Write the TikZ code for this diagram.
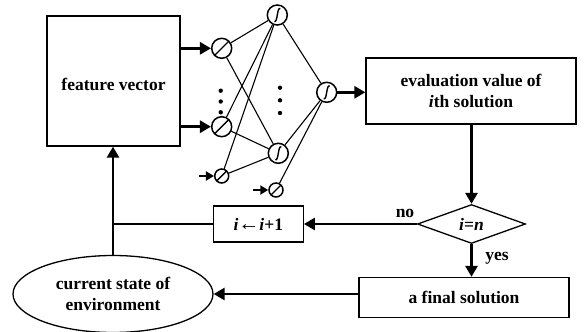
\documentclass[tikz,border=0pt]{standalone}
\usepackage{fontspec}
\setmainfont{Liberation Serif}
\usetikzlibrary{arrows.meta,shapes.geometric}

\begin{document}
\begin{tikzpicture}[x=1pt,y=-1pt,
  every node/.append style={font=\fontsize{17.5}{21.5}\selectfont\bfseries},
  box/.style={draw, line width=1.3pt, inner sep=0pt, align=center},
  flow/.style={line width=2.8pt, -{Triangle[length=11pt,width=12pt]}},
  feed/.style={line width=2.2pt, -{Triangle[length=8pt,width=9pt]}},
  link/.style={line width=1.1pt},
  neuron/.style={circle, draw, line width=1.5pt, inner sep=0pt, minimum size=20pt},
  lin/.style={neuron, path picture={\draw[line width=1.4pt]
      (path picture bounding box.south west) -- (path picture bounding box.north east);}},
  sig/.style={neuron, path picture={\draw[line width=1.4pt, shift={(path picture bounding box.center)}]
      (-3pt,-6.5pt) .. controls (0.5pt,-8pt) and (-0.5pt,8pt) .. (3pt,6.5pt);}},
  bias/.style={lin, minimum size=14pt},
  dot/.style={circle, fill, inner sep=0pt, minimum size=4.4pt}
]
\useasboundingbox (0,0) rectangle (584,332);

% flowchart blocks
\node[box, minimum width=133pt, minimum height=130pt, text height=20pt] (fv) at (113.5,81) {feature vector};
\node[box, minimum width=210pt, minimum height=66pt] (ev) at (471,91) {evaluation value of\\\textit{i}th solution};
\node[diamond, draw, line width=1.3pt, aspect=2.8, minimum width=108pt, minimum height=39pt, inner sep=0pt] (dec) at (471.5,224) {\textit{i}=\textit{n}};
\node[box, minimum width=90pt, minimum height=36pt] (inc) at (258.3,224) {\textit{i}{\fontsize{21}{21}\selectfont\mdseries ←}\textit{i}+1};
\node[box, minimum width=210pt, minimum height=40pt] (fin) at (464,297.5) {a final solution};
\node[ellipse, draw, line width=1.3pt, minimum width=200pt, minimum height=77pt, inner sep=0pt, align=center] (env) at (113,294) {current state of\\environment};

% network units
\node[lin] (i1) at (221.7,48.3) {};
\node[lin] (i2) at (221.7,126.7) {};
\node[bias] (b1) at (221.7,176) {};
\node[sig] (h1) at (277.3,15) {};
\node[sig] (h2) at (278.3,153.3) {};
\node[bias] (b2) at (276,190) {};
\node[sig] (out) at (326.7,92.3) {};
\coordinate (b1in) at (199,176);
\coordinate (b2in) at (253,190);

% elided units
\foreach \y in {90.7,101.5,112.3} \node[dot] at (220.7,\y) {};
\foreach \y in {87.7,100.3,113} \node[dot] at (280,\y) {};

% weights
\foreach \a in {i1,i2,b1} {
  \draw[link] (\a) -- (h1);
  \draw[link] (\a) -- (h2);
}
\foreach \a in {h1,h2,b2} \draw[link] (\a) -- (out);

% inputs to the network
\draw[flow] (fv.east |- i1) -- (i1);
\draw[flow] (fv.east |- i2) -- (i2);
\draw[feed] (b1in) -- (b1);
\draw[feed] (b2in) -- (b2);

% control flow
\draw[flow] (out) -- (out -| ev.west);
\draw[flow] (ev.south -| dec.north) -- (dec.north);
\draw[flow] (dec.west) -- (inc.east);
\draw[line width=2.8pt] (inc.west) -- (inc.west -| env.north);
\draw[flow] (dec.south) -- (dec.south |- fin.north);
\draw[flow] (fin.west |- env.east) -- (env.east);
\draw[flow] (env.north) -- (env.north |- fv.south);

\node (no) at (405,213) {no};
\node (yes) at (497,258) {yes};
\end{tikzpicture}
\end{document}
